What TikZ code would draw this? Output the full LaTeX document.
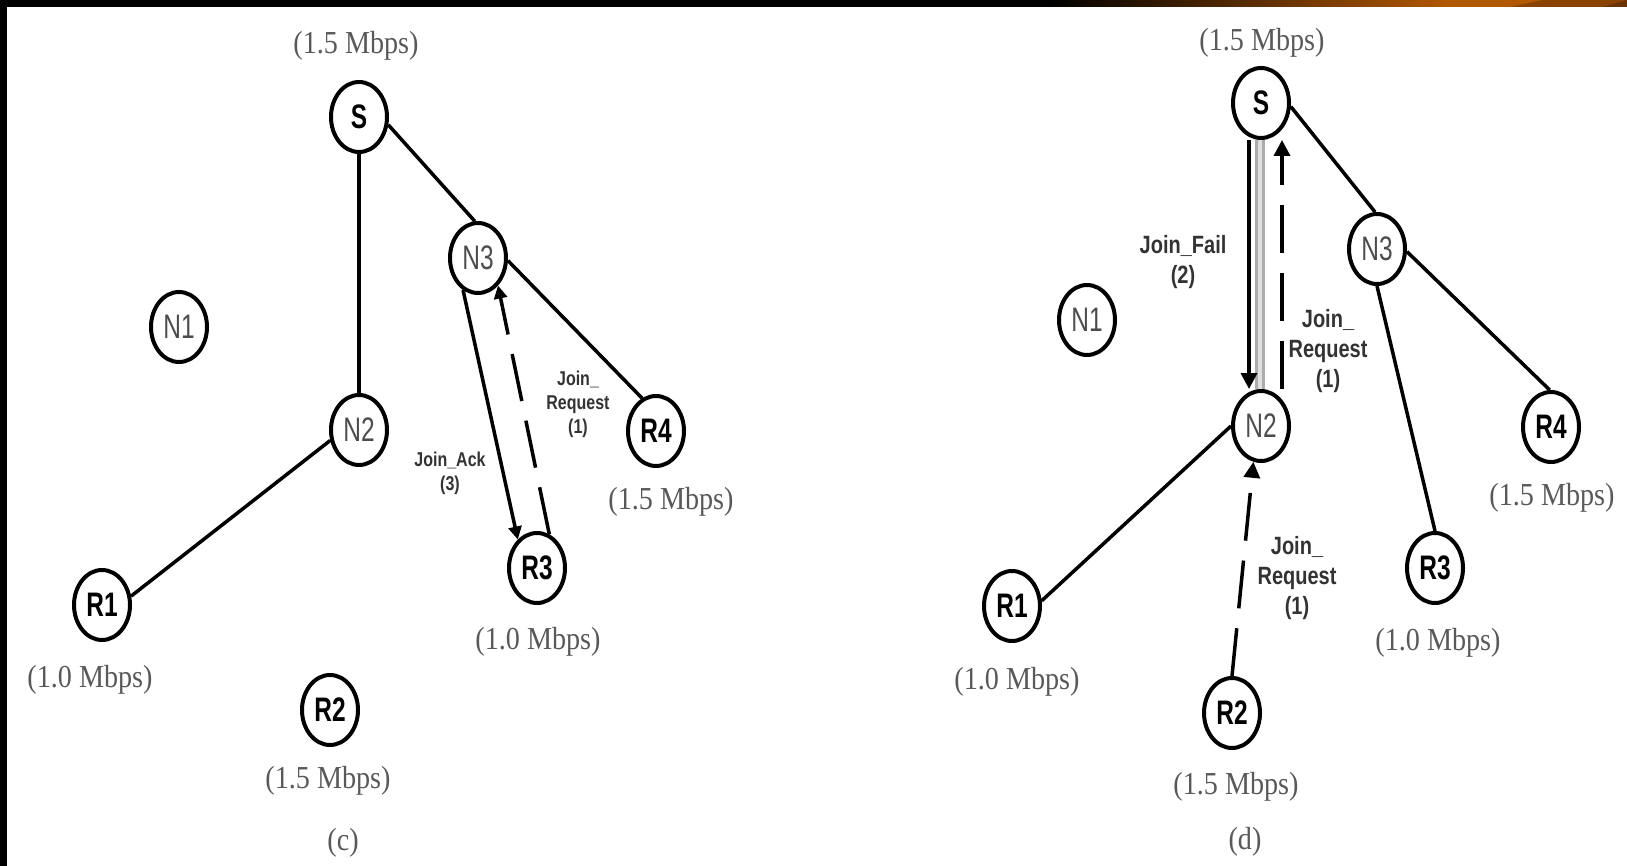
\documentclass[tikz,border=0pt]{standalone}
\usepackage{fontspec}
\usepackage{tikz}
\usetikzlibrary{shapes.geometric,arrows.meta}
\newfontfamily\rateface[FakeStretch=0.88]{Liberation Serif}
\newfontfamily\labface[FakeStretch=0.8]{Liberation Sans}
\newfontfamily\hostface[FakeStretch=0.72]{Liberation Sans}
\definecolor{bandorange}{RGB}{178,88,0}
\definecolor{bandbrown}{RGB}{138,66,0}
\definecolor{banddark}{RGB}{104,50,0}

\begin{document}
\begin{tikzpicture}[x=1pt, y=-1pt,
  host/.style={ellipse, draw, line width=4pt, minimum width=56pt, minimum height=70pt,
    inner sep=0pt, font=\hostface\bfseries\fontsize{34}{34}\selectfont},
  relay/.style={host, font=\hostface\fontsize{34}{34}\selectfont, text=black!70},
  rate/.style={font=\rateface\fontsize{32}{32}\selectfont, text=black!65},
  link/.style={line width=3.5pt},
  ack/.style={link, -{Triangle[length=13pt,width=13pt]}},
  req/.style={ack, dash pattern=on 48pt off 20pt},
  msg/.style={font=\labface\bfseries\fontsize{20}{24}\selectfont, text=black!80, align=center},
  msgbig/.style={msg, font=\labface\bfseries\fontsize{25}{30}\selectfont}]
\useasboundingbox (0,0) rectangle (1627,866);
% frame
\fill[black] (0,0) rectangle (1048,7);
\shade[left color=black, right color=bandorange] (1048,0) rectangle (1452,7);
\fill[bandorange] (1452,0) rectangle (1545,7);
\fill[bandbrown] (1510,7) -- (1543,0) -- (1627,0) -- (1627,7) -- cycle;
\fill[banddark] (1603,7) -- (1627,0) -- (1627,7) -- cycle;
\fill[black] (0,0) rectangle (7,866);

% (c)
\node[rate] (rateSc) at (356,46) {(1.5 Mbps)};
\node[host] (Sc) at (359,117) {S};
\node[relay] (N3c) at (478,258) {N3};
\node[relay] (N1c) at (179,327) {N1};
\node[relay] (N2c) at (359,430) {N2};
\node[host] (R4c) at (656,431) {R4};
\node[rate] (rateR4c) at (671,502) {(1.5 Mbps)};
\node[host] (R3c) at (537,568) {R3};
\node[rate] (rateR3c) at (538,642) {(1.0 Mbps)};
\node[host] (R1c) at (102,605) {R1};
\node[rate] (rateR1c) at (90,680) {(1.0 Mbps)};
\node[host] (R2c) at (330,710) {R2};
\node[rate] (rateR2c) at (328,781) {(1.5 Mbps)};
\node[rate] (capc) at (343,843) {(c)};
\draw[link] (Sc) -- (N2c);
\draw[link] (Sc.345) -- (N3c.95);
\draw[link] (N3c.355) -- (R4c.113);
\draw[link] (N2c.200) -- (R1c.17);
\draw[ack] (N3c.245) -- (R3c.124);
\draw[req] (R3c.70) -- (N3c.306);
\node[msg] (reqc) at (578,404) {Join\_\\Request\\(1)};
\node[msg] (ackc) at (450,473) {Join\_Ack\\(3)};

% (d)
\node[rate] (rateSd) at (1262,43) {(1.5 Mbps)};
\node[host] (Sd) at (1261,103) {S};
\node[relay] (N3d) at (1377,249) {N3};
\node[relay] (N1d) at (1087,320) {N1};
\node[relay] (N2d) at (1261,426) {N2};
\node[host] (R4d) at (1551,427) {R4};
\node[rate] (rateR4d) at (1552,498) {(1.5 Mbps)};
\node[host] (R3d) at (1435,568) {R3};
\node[rate] (rateR3d) at (1438,643) {(1.0 Mbps)};
\node[host] (R1d) at (1012,606) {R1};
\node[rate] (rateR1d) at (1017,682) {(1.0 Mbps)};
\node[host] (R2d) at (1232,713) {R2};
\node[rate] (rateR2d) at (1236,787) {(1.5 Mbps)};
\node[rate] (capd) at (1245,842) {(d)};
\draw[link] (Sd.353) -- (N3d.93);
\draw[link] (N3d.355) -- (R4d.92);
\draw[link] (N3d.south) -- (R3d.north);
\draw[link] (N2d.180) -- (R1d.10);
\draw[link, draw=gray!65, double=gray!25, double distance=4pt, line width=3pt]
  ([xshift=-1pt]Sd.south) -- ([xshift=-1pt]N2d.north);
\draw[ack, -{Triangle[length=16pt,width=16pt]}] ([xshift=-12pt]Sd.south) -- ([xshift=-12pt]N2d.north);
\draw[req, -{Triangle[length=16pt,width=16pt]}] ([xshift=21pt]N2d.north) -- ([xshift=21pt]Sd.south);
\draw[req, -{Triangle[length=16pt,width=16pt]}] (R2d.north) -- (N2d.258);
\node[msgbig] (faild) at (1183,262) {Join\_Fail\\(2)};
\node[msgbig] (req1d) at (1328,351) {Join\_\\Request\\(1)};
\node[msgbig] (req2d) at (1297,578) {Join\_\\Request\\(1)};
\end{tikzpicture}
\end{document}
